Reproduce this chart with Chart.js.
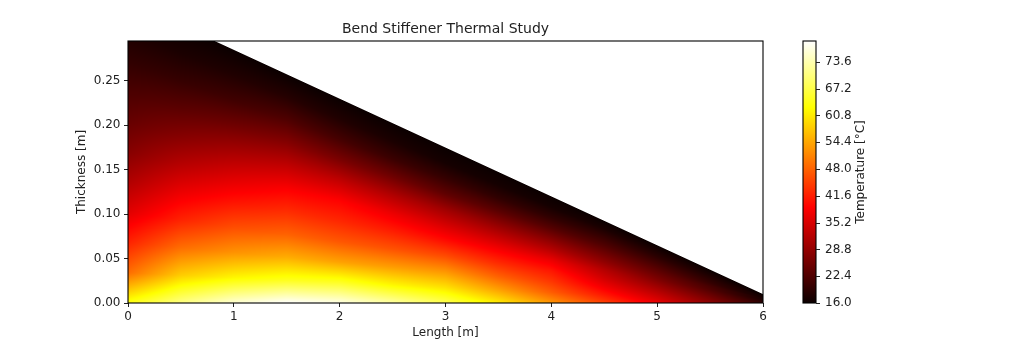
<!DOCTYPE html>
<html>
<head>
<meta charset="utf-8">
<script src="https://cdn.jsdelivr.net/npm/chart.js@4"></script>
<style>
  html, body { margin: 0; padding: 0; background: #fff; }
</style>
</head>
<body>
<canvas id="chart" width="1024" height="341"></canvas>
<script>
// stiffener outline: thickness along the length
const profileLength = [0, 6];
const profileThickness = [0.34, 0.01];

// temperature stations along the length, values sampled at fractions of local thickness
const stationX = [0, 0.5, 1, 1.5, 2, 2.5, 3, 3.5, 4, 4.5, 5, 5.5, 6];
const depthFrac = [0, 0.1, 0.2, 0.3, 0.4, 0.5, 0.6, 0.7, 0.8, 0.9, 1.0];
const tempX0_0 = [64, 49, 42, 36, 31.5, 27.5, 24.5, 22, 19.5, 17.5, 16];
const tempX0_5 = [71, 58, 49, 42, 37, 32, 27.5, 23.5, 20, 17.5, 16];
const tempX1_0 = [76, 62, 52.5, 46, 40.5, 35.5, 30.5, 25.5, 21, 18, 16];
const tempX1_5 = [78.6, 64.5, 55, 48, 43, 38.5, 33, 27.5, 22.5, 18.5, 16];
const tempX2_0 = [77, 65, 54, 47, 42.5, 39, 33, 26.5, 21.5, 18, 16];
const tempX2_5 = [73, 62, 53.5, 46.5, 41.5, 37, 31.5, 25.5, 20.5, 17.5, 16];
const tempX3_0 = [68, 60, 53, 46, 40, 35, 30, 24, 20, 17, 16];
const tempX3_5 = [61, 54, 48, 43, 38.5, 33.5, 28.5, 23.5, 19.5, 17, 16];
const tempX4_0 = [53, 47.5, 44, 41, 37, 32, 27.5, 23, 19.5, 17, 16];
const tempX4_5 = [45, 41, 37.5, 34.5, 32, 28.5, 25.5, 22.5, 20, 17.5, 16];
const tempX5_0 = [37, 34.5, 32, 29.5, 27, 25, 23, 21, 19, 17.5, 16];
const tempX5_5 = [28, 27, 25.5, 24, 22.5, 21.5, 20, 19, 18, 17, 16];
const tempX6_0 = [19.5, 19, 18.5, 18, 17.5, 17.5, 17, 17, 16.5, 16, 16];
const stations = [tempX0_0, tempX0_5, tempX1_0, tempX1_5, tempX2_0, tempX2_5, tempX3_0,
                  tempX3_5, tempX4_0, tempX4_5, tempX5_0, tempX5_5, tempX6_0];

const xTicks = [0, 1, 2, 3, 4, 5, 6];
const yTicks = [0, 0.05, 0.10, 0.15, 0.20, 0.25];
const cbTicks = [16.0, 22.4, 28.8, 35.2, 41.6, 48.0, 54.4, 60.8, 67.2, 73.6];
const tempMin = 16.0, tempMax = 78.6;

function clamp(v) { return v < 0 ? 0 : (v > 1 ? 1 : v); }

// matplotlib 'hot'
function hot(t) {
    t = clamp(t);
    let r = t < 0.365079 ? 0.0416 + (1 - 0.0416) * t / 0.365079 : 1;
    let g = clamp((t - 0.365079) / (0.746032 - 0.365079));
    let b = clamp((t - 0.746032) / (1 - 0.746032));
    return [Math.round(r * 255), Math.round(g * 255), Math.round(b * 255)];
}

function findCell(arr, v) {
    let i = 0;
    while (i < arr.length - 2 && v > arr[i + 1]) i++;
    let f = (v - arr[i]) / (arr[i + 1] - arr[i]);
    return [i, clamp(f)];
}

function thicknessAt(xv) {
    let c = findCell(profileLength, xv);
    return profileThickness[c[0]] + c[1] * (profileThickness[c[0] + 1] - profileThickness[c[0]]);
}

function tempAt(xv, eta) {
    let cx = findCell(stationX, xv);
    let cy = findCell(depthFrac, eta);
    let a = stations[cx[0]], b = stations[cx[0] + 1];
    let j = cy[0], fy = cy[1], fx = cx[1];
    let ta = a[j] + fy * (a[j + 1] - a[j]);
    let tb = b[j] + fy * (b[j + 1] - b[j]);
    return ta + fx * (tb - ta);
}

const heatPlugin = {
    id: 'heat',
    beforeDatasetsDraw(chart) {
        const ctx = chart.ctx;
        const a = chart.chartArea;
        const xs = chart.scales.x, ys = chart.scales.y;
        const w = Math.round(a.right - a.left), h = Math.round(a.bottom - a.top);
        const off = document.createElement('canvas');
        off.width = w; off.height = h;
        const octx = off.getContext('2d');
        const img = octx.createImageData(w, h);
        for (let i = 0; i < w; i++) {
            const xv = xs.getValueForPixel(a.left + i + 0.5);
            const th = thicknessAt(xv);
            const thPix = ys.getPixelForValue(th);
            for (let j = 0; j < h; j++) {
                const py = a.top + j;
                const cover = clamp(py + 1 - thPix);
                if (cover <= 0) continue;
                const yv = Math.max(0, Math.min(th, ys.getValueForPixel(py + 0.5)));
                const T = tempAt(xv, yv / th);
                const c = hot((T - tempMin) / (tempMax - tempMin));
                const k = (j * w + i) * 4;
                img.data[k] = c[0]; img.data[k + 1] = c[1]; img.data[k + 2] = c[2];
                img.data[k + 3] = Math.round(cover * 255);
            }
        }
        octx.putImageData(img, 0, 0);
        ctx.drawImage(off, a.left, a.top);
    },
    afterDraw(chart) {
        const ctx = chart.ctx;
        const a = chart.chartArea;
        const cb = chart.scales.cb;
        ctx.save();
        // axes frame
        ctx.strokeStyle = '#000';
        ctx.lineWidth = 1.1;
        ctx.strokeRect(a.left, a.top, a.right - a.left, a.bottom - a.top);

        // colorbar
        const barL = 803, barR = 816;
        const top = cb.getPixelForValue(tempMax), bot = cb.getPixelForValue(tempMin);
        const grad = ctx.createLinearGradient(0, bot, 0, top);
        [0, 0.365079, 0.746032, 1].forEach(s => {
            const c = hot(s);
            grad.addColorStop(s, 'rgb(' + c.join(',') + ')');
        });
        ctx.fillStyle = grad;
        ctx.fillRect(barL, top, barR - barL, bot - top);
        ctx.strokeRect(barL, top, barR - barL, bot - top);
        ctx.lineWidth = 1;
        ctx.strokeStyle = '#222';
        cbTicks.forEach(v => {
            const py = Math.round(cb.getPixelForValue(v)) + 0.5;
            ctx.beginPath();
            ctx.moveTo(barR, py);
            ctx.lineTo(barR + 4, py);
            ctx.stroke();
        });

        // colorbar label
        ctx.fillStyle = '#222';
        ctx.font = '12px "DejaVu Sans"';
        ctx.textAlign = 'center';
        ctx.textBaseline = 'middle';
        ctx.translate(861, (top + bot) / 2);
        ctx.rotate(-Math.PI / 2);
        ctx.fillText('Temperature [°C]', 0, 0);
        ctx.restore();
    }
};

Chart.defaults.font.family = '"DejaVu Sans", sans-serif';
Chart.defaults.font.size = 12;
Chart.defaults.color = '#222';

const tickGrid = {
    drawOnChartArea: false,
    drawTicks: true,
    tickLength: 4,
    color: '#222',
    lineWidth: 1
};

new Chart(document.getElementById('chart'), {
    type: 'scatter',
    data: { datasets: [] },
    plugins: [heatPlugin],
    options: {
        responsive: false,
        animation: false,
        layout: { padding: 0 },
        plugins: {
            legend: { display: false },
            tooltip: { enabled: false },
            title: {
                display: true,
                text: 'Bend Stiffener Thermal Study',
                fullSize: false,
                color: '#222',
                font: { size: 14, weight: 'normal' },
                padding: { top: 21, bottom: 3.2 }
            }
        },
        scales: {
            x: {
                type: 'linear',
                min: 0,
                max: 6,
                afterBuildTicks: s => { s.ticks = xTicks.map(v => ({ value: v })); },
                afterFit: s => { s.height = 38; s.paddingLeft = 0; s.paddingRight = 0; },
                grid: tickGrid,
                border: { display: false },
                ticks: { padding: 3, autoSkip: false, maxRotation: 0, callback: v => String(v) },
                title: { display: true, text: 'Length [m]', padding: { top: 0, bottom: 1 } }
            },
            y: {
                type: 'linear',
                position: 'left',
                min: 0,
                max: 0.295,
                afterBuildTicks: s => { s.ticks = yTicks.map(v => ({ value: v })); },
                afterFit: s => { s.width = 128; s.paddingTop = 0; s.paddingBottom = 0; },
                grid: tickGrid,
                border: { display: false },
                ticks: { padding: 3.5, autoSkip: false, callback: v => v.toFixed(2) },
                title: { display: true, text: 'Thickness [m]', padding: { top: 75, bottom: 0 } }
            },
            cb: {
                type: 'linear',
                position: 'right',
                min: tempMin,
                max: tempMax,
                afterBuildTicks: s => { s.ticks = cbTicks.map(v => ({ value: v })); },
                afterFit: s => { s.width = 261; s.paddingTop = 0; s.paddingBottom = 0; },
                grid: { display: false, drawTicks: false, drawOnChartArea: false },
                border: { display: false },
                ticks: { padding: 62, autoSkip: false, callback: v => v.toFixed(1) }
            }
        }
    }
});
</script>
</body>
</html>
